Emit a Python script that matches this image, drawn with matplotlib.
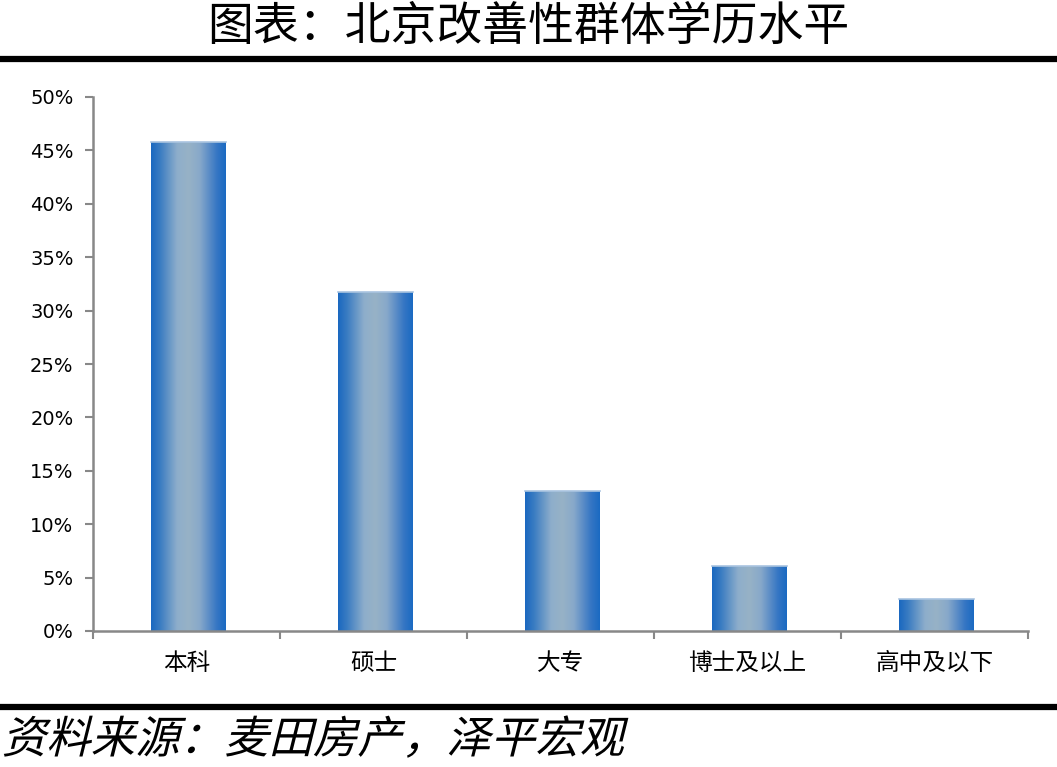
import matplotlib
matplotlib.use("Agg")
import matplotlib.pyplot as plt
import numpy as np
from matplotlib.colors import LinearSegmentedColormap
from matplotlib.ticker import FuncFormatter, FixedLocator
from matplotlib.patheffects import AbstractPathEffect
from matplotlib.transforms import Affine2D

plt.rcParams['font.family'] = ['Noto Sans CJK SC', 'DejaVu Sans']

categories = ['本科', '硕士', '大专', '博士及以上', '高中及以下']
values = [45.8, 31.7, 13.1, 6.1, 3.0]
y_ticks = [0, 5, 10, 15, 20, 25, 30, 35, 40, 45, 50]
title = '图表：北京改善性群体学历水平'
source = '资料来源：麦田房产，泽平宏观'

W, H = 1057, 767
fig = plt.figure(figsize=(W / 100, H / 100), dpi=100)
ax = fig.add_axes([93 / W, 1 - 631 / H, (1028 - 93) / W, (631 - 97) / H])

x = np.arange(len(categories))
bars = ax.bar(x + 0.01, values, width=0.4, color='none', edgecolor='none', zorder=2)

cmap = LinearSegmentedColormap.from_list(
    'bargrad',
    [(0.0, '#1a68c0'), (0.12, '#3a7cc2'), (0.35, '#8eaecb'), (0.5, '#97b2c6'),
     (0.65, '#88a9ca'), (0.88, '#3676c4'), (1.0, '#1a6ac2')])
grad = np.linspace(0, 1, 256).reshape(1, -1)
for b in bars:
    x0, y0 = b.get_x(), b.get_y()
    w, h = b.get_width(), b.get_height()
    im = ax.imshow(grad, cmap=cmap, aspect='auto', extent=[x0, x0 + w, y0, y0 + h],
                   zorder=2, interpolation='bilinear')
    im.set_clip_path(b)
    ax.plot([x0, x0 + w], [y0 + h, y0 + h], color='#a9c4e0', lw=1.2, zorder=3)

ax.set_xlim(-0.5, len(categories) - 0.5)
ax.set_ylim(0, 50)
ax.set_yticks(y_ticks)
ax.yaxis.set_major_formatter(FuncFormatter(lambda v, p: f'{int(v)}%'))
ax.xaxis.set_major_locator(FixedLocator(np.arange(len(categories) + 1) - 0.5))
ax.set_xticklabels([])
ax.xaxis.set_minor_locator(FixedLocator(x))
ax.set_xticklabels(categories, minor=True)
ax.tick_params(axis='x', which='minor', length=0, pad=15, labelsize=17)
ax.tick_params(axis='x', which='major', length=6, width=1.5, color='#888888', direction='out')
ax.tick_params(axis='y', length=6, width=1.5, color='#888888', labelsize=14, pad=8)
for lab in ax.get_yticklabels():
    lab.set_fontfamily('DejaVu Sans')

for s in ['top', 'right']:
    ax.spines[s].set_visible(False)
for s in ['left', 'bottom']:
    ax.spines[s].set_color('#888888')
    ax.spines[s].set_linewidth(1.8)


class Skew(AbstractPathEffect):
    def __init__(self, cx, cy, deg):
        super().__init__()
        self.cx, self.cy, self.deg = cx, cy, deg

    def draw_path(self, renderer, gc, tpath, affine, rgbFace=None):
        sk = Affine2D().translate(-self.cx, -self.cy).skew_deg(self.deg, 0).translate(self.cx, self.cy)
        renderer.draw_path(gc, tpath, affine + sk, rgbFace)


fig.text(528 / W, 1 - 27 / H, title, ha='center', va='center', fontsize=33,
         fontweight='light')
fig.add_artist(plt.Line2D([0, 1], [1 - 59 / H, 1 - 59 / H], color='black', lw=4.5,
                          transform=fig.transFigure))
fig.add_artist(plt.Line2D([0, 1], [1 - 707 / H, 1 - 707 / H], color='black', lw=4.5,
                          transform=fig.transFigure))
sy = 1 - 740 / H
cx, cy = fig.transFigure.transform((0, sy))
fig.text(5 / W, sy, source, ha='left', va='center', fontsize=32,
         fontweight='light', path_effects=[Skew(cx, cy, 14)])

fig.savefig('out.png', dpi=100)
